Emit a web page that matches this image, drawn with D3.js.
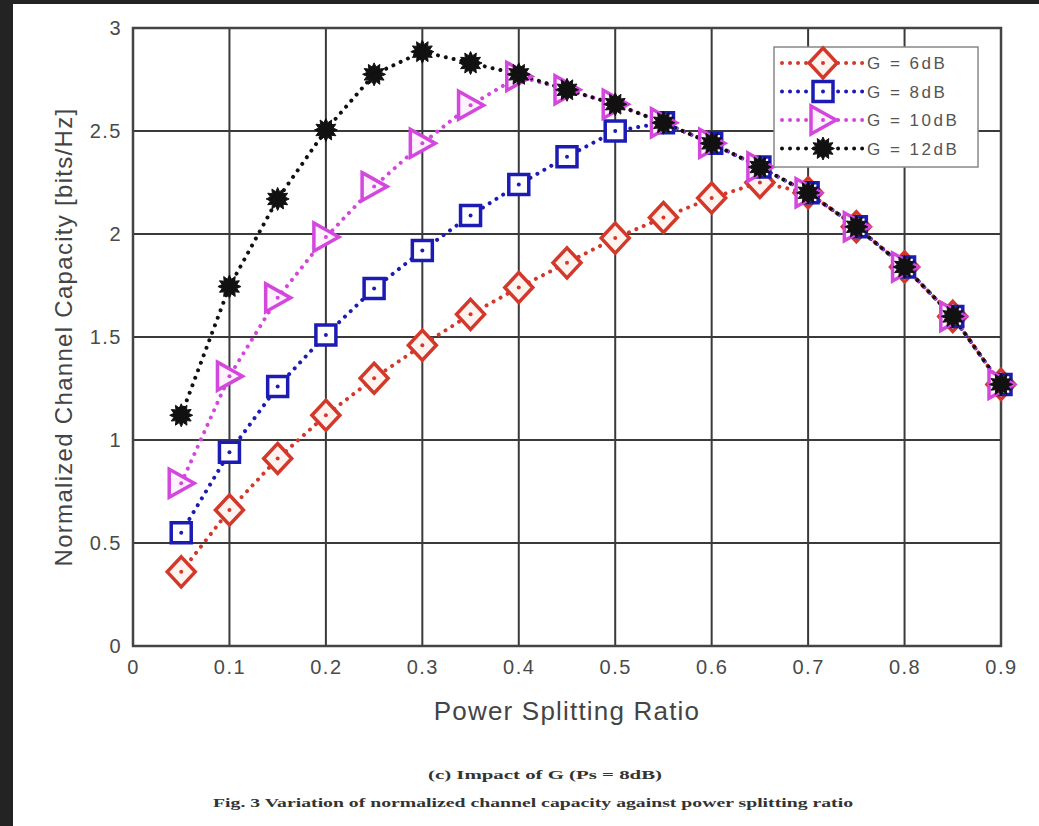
<!DOCTYPE html>
<html>
<head>
<meta charset="utf-8">
<script src="https://cdn.jsdelivr.net/npm/d3@7"></script>
<style>
  body { margin: 0; background: #fff; }
  svg { display: block; }
</style>
</head>
<body>
<div id="chart"></div>
<script>
// data
var ratio = [0.05, 0.1, 0.15, 0.2, 0.25, 0.3, 0.35, 0.4, 0.45, 0.5, 0.55, 0.6, 0.65, 0.7, 0.75, 0.8, 0.85, 0.9];
var g6  = [0.36, 0.66, 0.91, 1.12, 1.30, 1.46, 1.61, 1.74, 1.86, 1.98, 2.08, 2.175, 2.25, 2.20, 2.035, 1.84, 1.60, 1.27];
var g8  = [0.55, 0.94, 1.26, 1.51, 1.735, 1.92, 2.09, 2.24, 2.375, 2.50, 2.54, 2.44, 2.325, 2.20, 2.035, 1.84, 1.60, 1.27];
var g10 = [0.79, 1.31, 1.69, 1.985, 2.23, 2.44, 2.625, 2.765, 2.70, 2.63, 2.54, 2.44, 2.325, 2.20, 2.035, 1.84, 1.60, 1.27];
var g12 = [1.12, 1.745, 2.17, 2.505, 2.775, 2.885, 2.83, 2.775, 2.70, 2.63, 2.54, 2.44, 2.325, 2.20, 2.035, 1.84, 1.60, 1.27];
var seriesNames = ["G = 6dB", "G = 8dB", "G = 10dB", "G = 12dB"];
var xTicks = [0, 0.1, 0.2, 0.3, 0.4, 0.5, 0.6, 0.7, 0.8, 0.9];
var yTicks = [0, 0.5, 1, 1.5, 2, 2.5, 3];

var series = [
  {name: seriesNames[0], values: g6,  color: "#d3392b", fill: "#fff3ef", shape: "diamond"},
  {name: seriesNames[1], values: g8,  color: "#1c1cb4", fill: "#ffffff", shape: "square"},
  {name: seriesNames[2], values: g10, color: "#d447dd", fill: "#fdf2fe", shape: "triangle"},
  {name: seriesNames[3], values: g12, color: "#111111", fill: "#111111", shape: "star"}
];

var W = 1039, H = 826;
var margin = {top: 28, right: 38, bottom: 180, left: 133};
var width = W - margin.left - margin.right;
var height = H - margin.top - margin.bottom;

var svg = d3.select("#chart")
  .append("svg")
    .attr("width", W)
    .attr("height", H);

// dark frame of the screenshot
svg.append("rect").attr("width", W).attr("height", H).attr("fill", "#232323");
svg.append("rect").attr("x", 13).attr("y", 4).attr("width", W - 13).attr("height", H - 4).attr("fill", "#ffffff");

var g = svg.append("g")
  .attr("transform", "translate(" + margin.left + "," + margin.top + ")");

var x = d3.scaleLinear().domain([0, 0.9]).range([0, width]);
var y = d3.scaleLinear().domain([0, 3]).range([height, 0]);

// grid
g.append("g").selectAll("line")
  .data(xTicks)
  .enter().append("line")
    .attr("x1", function(d) { return x(d); })
    .attr("x2", function(d) { return x(d); })
    .attr("y1", 0).attr("y2", height)
    .attr("stroke", "#3a3a3a").attr("stroke-width", 2);
g.append("g").selectAll("line")
  .data(yTicks)
  .enter().append("line")
    .attr("y1", function(d) { return y(d); })
    .attr("y2", function(d) { return y(d); })
    .attr("x1", 0).attr("x2", width)
    .attr("stroke", "#3a3a3a").attr("stroke-width", 2);

// box
g.append("rect")
  .attr("width", width).attr("height", height)
  .attr("fill", "none").attr("stroke", "#444").attr("stroke-width", 2.5);

// tick labels
var tickFont = "'Liberation Sans', Arial, sans-serif";
var xAxis = g.append("g")
  .attr("transform", "translate(0," + height + ")")
  .call(d3.axisBottom(x).tickValues(xTicks).tickSize(0).tickPadding(14).tickFormat(d3.format("")));
var yAxis = g.append("g")
  .call(d3.axisLeft(y).tickValues(yTicks).tickSize(0).tickPadding(11).tickFormat(d3.format("")));
[xAxis, yAxis].forEach(function(a) {
  a.select(".domain").remove();
  a.selectAll("text")
    .attr("font-family", tickFont)
    .attr("font-size", 20)
    .attr("letter-spacing", 1.5)
    .attr("fill", "#4a4a4a");
});

// axis titles
g.append("text")
  .attr("x", width / 2)
  .attr("y", height + 74)
  .attr("text-anchor", "middle")
  .attr("font-family", tickFont)
  .attr("font-size", 26)
  .attr("letter-spacing", 1.2)
  .attr("fill", "#444")
  .text("Power Splitting Ratio");
g.append("text")
  .attr("transform", "translate(-61," + (height / 2) + ") rotate(-90)")
  .attr("text-anchor", "middle")
  .attr("font-family", tickFont)
  .attr("font-size", 24)
  .attr("letter-spacing", 1.3)
  .attr("fill", "#444")
  .text("Normalized Channel Capacity [bits/Hz]");

// marker shapes
function markerPath(shape) {
  if (shape === "diamond") return "M0,-15L14,0L0,15L-14,0Z";
  if (shape === "square") return "M-10,-10H10V10H-10Z";
  if (shape === "triangle") return "M-12,-14L13,0L-12,14Z";
  var pts = [], n = 12;
  for (var i = 0; i < n * 2; i++) {
    var r = i % 2 === 0 ? 11.5 : 7.5;
    var a = Math.PI * i / n - Math.PI / 2;
    pts.push([r * Math.cos(a), r * Math.sin(a)]);
  }
  return "M" + pts.join("L") + "Z";
}

function drawMarker(sel, s) {
  sel.append("path")
    .attr("d", markerPath(s.shape))
    .attr("fill", s.fill)
    .attr("stroke", s.color)
    .attr("stroke-width", s.shape === "star" ? 1 : 3.5)
    .attr("stroke-linejoin", "miter");
  sel.append("circle").attr("r", 2).attr("fill", s.color);
}

var line = d3.line()
  .x(function(d, i) { return x(ratio[i]); })
  .y(function(d) { return y(d); });

series.forEach(function(s) {
  g.append("path")
    .datum(s.values)
    .attr("d", line)
    .attr("fill", "none")
    .attr("stroke", s.color)
    .attr("stroke-width", 4)
    .attr("stroke-linecap", "round")
    .attr("stroke-dasharray", "0.01 8");
});

series.forEach(function(s) {
  g.append("g").selectAll("g")
    .data(s.values)
    .enter().append("g")
      .attr("transform", function(d, i) { return "translate(" + x(ratio[i]) + "," + y(d) + ")"; })
      .each(function() { drawMarker(d3.select(this), s); });
});

// legend
var legend = svg.append("g").attr("transform", "translate(774,47)");
legend.append("rect")
  .attr("width", 204).attr("height", 120)
  .attr("fill", "#fff").attr("stroke", "#888").attr("stroke-width", 1.5);
series.forEach(function(s, i) {
  var row = legend.append("g").attr("transform", "translate(0," + (16 + i * 28.5) + ")");
  row.append("line")
    .attr("x1", 8).attr("x2", 91)
    .attr("stroke", s.color)
    .attr("stroke-width", 4)
    .attr("stroke-linecap", "round")
    .attr("stroke-dasharray", "0.01 8");
  var m = row.append("g").attr("transform", "translate(49,0)");
  drawMarker(m, s);
  row.append("text")
    .attr("x", 93).attr("y", 6)
    .attr("font-family", tickFont)
    .attr("font-size", 17)
    .attr("letter-spacing", 2.5)
    .attr("fill", "#555")
    .attr("xml:space", "preserve")
    .text(s.name);
});

// captions
svg.append("text")
  .attr("x", 428).attr("y", 779)
  .attr("textLength", 234).attr("lengthAdjust", "spacingAndGlyphs")
  .attr("font-family", "'Liberation Serif', serif")
  .attr("font-weight", "bold")
  .attr("font-size", 13)
  .attr("fill", "#333")
  .text("(c)  Impact of G (Ps = 8dB)");
svg.append("text")
  .attr("x", 213).attr("y", 807)
  .attr("textLength", 640).attr("lengthAdjust", "spacingAndGlyphs")
  .attr("font-family", "'Liberation Serif', serif")
  .attr("font-weight", "bold")
  .attr("font-size", 13)
  .attr("fill", "#333")
  .text("Fig. 3 Variation of normalized channel capacity against power splitting ratio");
</script>
</body>
</html>
